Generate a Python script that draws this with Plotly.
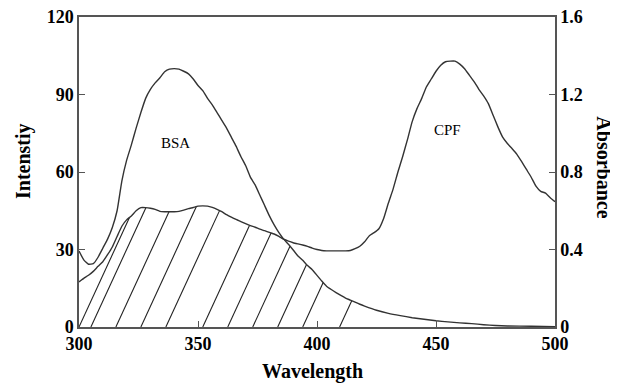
import numpy as np
import plotly.graph_objects as go

# ---------------- data ----------------
# BSA fluorescence emission (left axis, intensity)
bsa_wavelength = [300, 302, 304, 306, 308, 310, 312, 314, 316, 318, 320, 322, 324, 326, 328,
                  330, 332, 334, 336, 338, 340, 342, 344, 346, 348, 350, 352, 354, 356, 358,
                  360, 362, 364, 366, 368, 370, 372, 374, 376, 378, 380, 382, 384, 386, 388,
                  390, 392, 394, 396, 398, 400, 402, 404, 406, 408, 410, 412, 414, 416, 418,
                  420, 425, 430, 435, 440, 445, 450, 455, 460, 465, 470, 475, 480, 490, 500]
bsa_intensity = [29.4, 26.0, 24.3, 24.5, 27.0, 30.5, 34.0, 38.5, 45.0, 56.5, 64.5, 70.5, 77.0, 83.0, 88.5,
                 92.0, 94.5, 96.5, 98.8, 99.8, 100.0, 99.8, 99.0, 98.0, 96.0, 93.5, 91.5, 88.5, 86.0, 83.0,
                 80.0, 77.0, 73.5, 70.0, 66.0, 62.5, 58.0, 55.0, 51.0, 47.0, 43.0, 39.5, 36.5, 34.0, 32.0,
                 29.8, 27.5, 25.8, 23.8, 22.2, 20.0, 17.8, 15.8, 14.5, 13.3, 12.2, 11.2, 10.4, 9.6, 8.8,
                 8.1, 6.5, 5.3, 4.4, 3.6, 3.0, 2.4, 2.0, 1.6, 1.3, 0.9, 0.6, 0.4, 0.3, 0.1]

# CPF absorption spectrum (right axis, absorbance)
cpf_wavelength = list(range(300, 501, 2))
cpf_absorbance = [0.233, 0.251, 0.267, 0.287, 0.313, 0.337, 0.373, 0.413, 0.467, 0.520,
                  0.553, 0.573, 0.600, 0.616, 0.616, 0.613, 0.607, 0.597, 0.595, 0.595,
                  0.595, 0.597, 0.603, 0.611, 0.617, 0.624, 0.625, 0.624, 0.617, 0.607,
                  0.595, 0.580, 0.567, 0.555, 0.544, 0.533, 0.523, 0.515, 0.505, 0.497,
                  0.488, 0.480, 0.468, 0.453, 0.443, 0.435, 0.429, 0.423, 0.416, 0.407,
                  0.400, 0.395, 0.393, 0.393, 0.393, 0.393, 0.393, 0.395, 0.404, 0.417,
                  0.440, 0.471, 0.487, 0.507, 0.560, 0.640, 0.713, 0.800, 0.880, 0.967,
                  1.060, 1.127, 1.180, 1.240, 1.280, 1.320, 1.351, 1.369, 1.372, 1.372,
                  1.357, 1.333, 1.300, 1.267, 1.227, 1.193, 1.153, 1.093, 1.033, 0.980,
                  0.947, 0.920, 0.891, 0.853, 0.813, 0.773, 0.727, 0.700, 0.691, 0.667,
                  0.647]

# overlap hatching: start wavelengths of the hatch strokes along the baseline
hatch_start_nm = [300, 305, 315.5, 326, 336.5, 352, 362.5, 373, 383.5, 394, 409.5]

x_ticks = [300, 350, 400, 450, 500]
y_ticks = [0, 30, 60, 90, 120]
y2_ticks = [0, 0.4, 0.8, 1.2, 1.6]
y2_ticktext = ["0", "0.4", "0.8", "1.2", "1.6"]

# ---------------- styling ----------------
Y_RANGE = [0, 120]
Y2_RANGE = [0, 1.6]
HATCH_SLOPE = 2.0  # intensity units per nm
FONT = "Liberation Serif"
LINE_COLOR = "#333333"
AXIS_COLOR = "#555555"

scale = Y_RANGE[1] / Y2_RANGE[1]

# hatch strokes: from baseline up to the lower of the two curves
grid = np.linspace(300, 500, 8001)
upper = np.minimum(np.interp(grid, bsa_wavelength, bsa_intensity),
                   np.interp(grid, cpf_wavelength, cpf_absorbance) * scale)
hx, hy = [], []
for x0 in hatch_start_nm:
    line = HATCH_SLOPE * (grid - x0)
    idx = np.where((grid >= x0) & (line >= upper))[0]
    if len(idx) == 0:
        continue
    i = idx[0]
    hx += [x0, float(grid[i]), None]
    hy += [0, float(upper[i]), None]

fig = go.Figure()
fig.add_trace(go.Scatter(x=hx, y=hy, mode="lines",
                         line=dict(color="#222222", width=1.1),
                         hoverinfo="skip", showlegend=False))
fig.add_trace(go.Scatter(x=bsa_wavelength, y=bsa_intensity, mode="lines",
                         line=dict(color=LINE_COLOR, width=1.4, shape="spline", smoothing=0.4),
                         name="BSA", showlegend=False))
fig.add_trace(go.Scatter(x=cpf_wavelength, y=cpf_absorbance, mode="lines", yaxis="y2",
                         line=dict(color=LINE_COLOR, width=1.4, shape="spline", smoothing=0.4),
                         name="CPF", showlegend=False))

tickfont = dict(family=FONT, size=18, color="black", weight="bold")
titlefont = dict(family=FONT, size=20, color="black", weight="bold")

fig.update_layout(
    width=610, height=375,
    margin=dict(l=71, r=63, t=9, b=56, autoexpand=False),
    paper_bgcolor="white", plot_bgcolor="white",
    xaxis=dict(range=[300, 500], tickvals=x_ticks, ticks="inside", ticklen=6,
               tickcolor=AXIS_COLOR, showline=True, linecolor=AXIS_COLOR, linewidth=1.5,
               mirror=True, showgrid=False, zeroline=False, tickfont=tickfont,
               ticklabeloverflow="allow"),
    yaxis=dict(range=Y_RANGE, tickvals=y_ticks, ticks="inside", ticklen=6,
               tickcolor=AXIS_COLOR, showline=True, linecolor=AXIS_COLOR, linewidth=1.5,
               showgrid=False, zeroline=False, tickfont=tickfont,
               ticklabeloverflow="allow"),
    yaxis2=dict(range=Y2_RANGE, tickvals=y2_ticks, ticktext=y2_ticktext, overlaying="y",
                side="right", ticks="inside", ticklen=6, tickcolor=AXIS_COLOR,
                showline=True, linecolor=AXIS_COLOR, linewidth=1.5,
                showgrid=False, zeroline=False, tickfont=tickfont,
                ticklabeloverflow="allow"),
    annotations=[
        dict(text="Wavelength", xref="paper", yref="paper", x=0.49, y=-0.145,
             showarrow=False, font=titlefont, xanchor="center", yanchor="middle"),
        dict(text="Intenstiy", xref="paper", yref="paper", x=-0.118, y=0.535,
             showarrow=False, font=titlefont, textangle=-90, xanchor="center", yanchor="middle"),
        dict(text="Absorbance", xref="paper", yref="paper", x=1.103, y=0.515,
             showarrow=False, font=titlefont, textangle=90, xanchor="center", yanchor="middle"),
        dict(text="BSA", x=340.6, y=71.2, xref="x", yref="y", showarrow=False,
             font=dict(family=FONT, size=15, color="black")),
        dict(text="CPF", x=454.8, y=1.017, xref="x", yref="y2", showarrow=False,
             font=dict(family=FONT, size=15, color="black")),
    ],
)

fig.write_html("out.html")
